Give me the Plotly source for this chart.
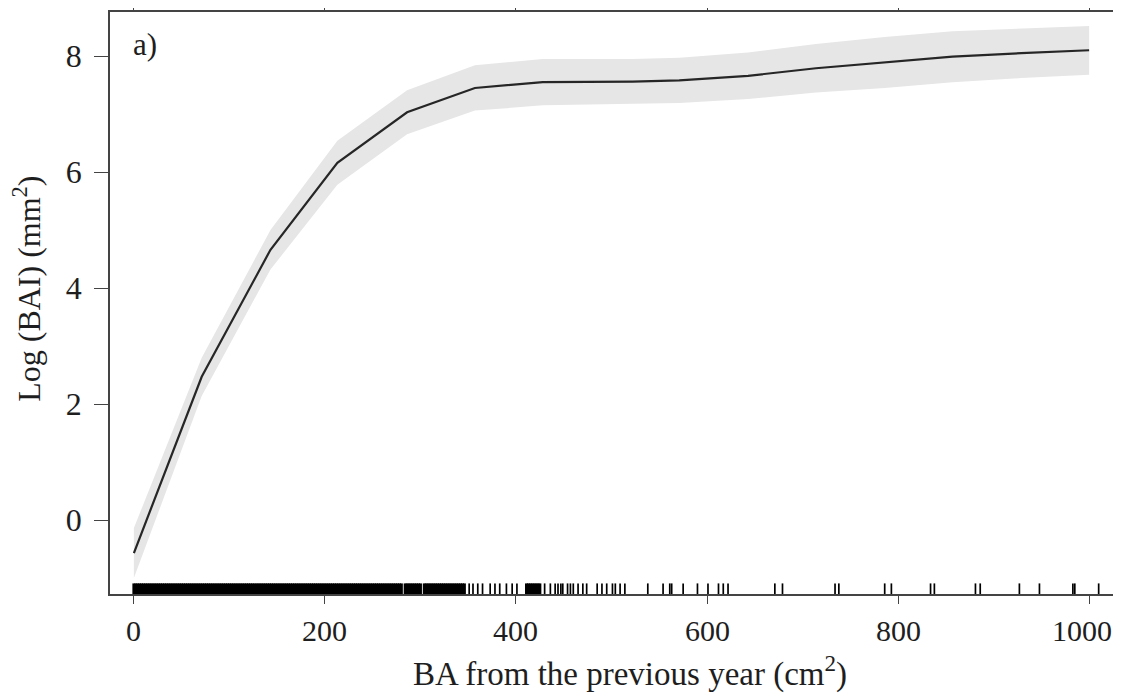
import plotly.graph_objects as go

# Fitted smooth (piecewise) and its confidence half-width
ba_x = [0, 71, 143, 213, 286, 357, 428, 500, 522, 571, 643, 714, 786, 857, 929, 1000]
fit_y = [-0.57, 2.47, 4.66, 6.16, 7.03, 7.45, 7.55, 7.56, 7.56, 7.58, 7.66, 7.79, 7.89, 7.99, 8.05, 8.10]
half_w = [0.43, 0.33, 0.34, 0.38, 0.38, 0.39, 0.40, 0.39, 0.39, 0.39, 0.40, 0.42, 0.44, 0.44, 0.43, 0.42]

# Rug of observed BA values
rug_dense = [0, 2, 4, 6, 8, 10, 12, 14, 16, 18, 20, 22, 24, 26, 28, 30, 32, 34, 36, 38,
             40, 42, 44, 46, 48, 50, 52, 54, 56, 58, 60, 62, 64, 66, 68, 70, 72, 74, 76, 78,
             80, 82, 84, 86, 88, 90, 92, 94, 96, 98, 100, 102, 104, 106, 108, 110, 112, 114,
             116, 118, 120, 122, 124, 126, 128, 130, 132, 134, 136, 138, 140, 142, 144, 146,
             148, 150, 152, 154, 156, 158, 160, 162, 164, 166, 168, 170, 172, 174, 176, 178,
             180, 182, 184, 186, 188, 190, 192, 194, 196, 198, 200, 202, 204, 206, 208, 210,
             212, 214, 216, 218, 220, 222, 224, 226, 228, 230, 232, 234, 236, 238, 240, 242,
             244, 246, 248, 250, 252, 254, 256, 258, 260, 262, 264, 266, 268, 270, 272, 274,
             276, 278, 280,
             284, 286, 288, 290, 292, 294, 296, 298, 300,
             304, 306, 308, 310, 312, 314, 316, 318, 320, 322, 324, 326, 328, 330, 332, 334,
             336, 338, 340, 342, 344, 346,
             411, 413, 415, 417, 419, 421, 423, 425]
rug_sparse = [351, 355, 360, 365, 373, 378, 383, 390, 396, 401,
              430, 436, 441, 444, 447, 449, 454, 457, 460, 465, 470, 474,
              485, 490, 495, 501, 504, 509, 514, 538, 554, 561, 563, 575, 590, 601,
              612, 617, 622, 671, 679, 734, 738, 786, 793, 834, 838, 881, 886,
              927, 948, 983, 985, 1010]

x_ticks = [0, 200, 400, 600, 800, 1000]
y_ticks = [0, 2, 4, 6, 8]

upper = [f + w for f, w in zip(fit_y, half_w)]
lower = [f - w for f, w in zip(fit_y, half_w)]

RUG_Y = -1.19
FONT = "Liberation Serif"
TXT = "#1e1e1e"

fig = go.Figure()
fig.add_trace(go.Scatter(x=ba_x, y=upper, mode="lines", line=dict(width=0, color="#e6e6e6"),
                         showlegend=False, hoverinfo="skip"))
fig.add_trace(go.Scatter(x=ba_x, y=lower, mode="lines", line=dict(width=0, color="#e6e6e6"),
                         fill="tonexty", fillcolor="#e6e6e6", showlegend=False, hoverinfo="skip"))
fig.add_trace(go.Scatter(x=ba_x, y=fit_y, mode="lines", line=dict(width=2.2, color="#262626"),
                         showlegend=False))
fig.add_trace(go.Scatter(x=rug_dense, y=[RUG_Y] * len(rug_dense), mode="markers",
                         marker=dict(symbol="line-ns", size=8, line=dict(width=3, color="black")),
                         showlegend=False, hoverinfo="x"))
fig.add_trace(go.Scatter(x=rug_sparse, y=[RUG_Y] * len(rug_sparse), mode="markers",
                         marker=dict(symbol="line-ns", size=8, line=dict(width=1.7, color="black")),
                         showlegend=False, hoverinfo="x"))

fig.add_annotation(text="a)", xref="paper", yref="paper", x=0.021, y=0.978,
                   xanchor="left", yanchor="top", showarrow=False,
                   font=dict(family=FONT, size=31, color=TXT))
# x tick labels as annotations so the last one stays inside the page
for i, t in enumerate(x_ticks):
    fig.add_annotation(text=str(t), xref="x", yref="paper", x=t, y=-0.062,
                       xanchor="center", yanchor="middle", showarrow=False,
                       xshift=-7 if i == len(x_ticks) - 1 else 0,
                       font=dict(family=FONT, size=30, color=TXT))
# Axis titles (placed as annotations to match the reference's off-centre placement)
fig.add_annotation(text="BA from the previous year (cm<sup>2</sup>)", xref="paper", yref="paper",
                   x=0.518, y=-0.134, xanchor="center", yanchor="middle", showarrow=False,
                   font=dict(family=FONT, size=33, color=TXT))
fig.add_annotation(text="Log (BAI) (mm<sup>2</sup>)", xref="paper", yref="paper",
                   x=-0.083, y=0.524, xanchor="center", yanchor="middle", showarrow=False,
                   textangle=-90, font=dict(family=FONT, size=32, color=TXT))

# The page adds an 8 px body margin, so the figure is sized/margined to compensate.
fig.update_layout(
    width=1113, height=687,
    margin=dict(l=102, r=8, t=4, b=101),
    paper_bgcolor="white", plot_bgcolor="white",
    font=dict(family=FONT, color=TXT),
    xaxis=dict(range=[-25, 1025], tickvals=x_ticks, automargin=False, showticklabels=False,
               showgrid=False, zeroline=False, showline=True, linecolor="#444", linewidth=1.5,
               mirror="ticks", ticks="outside", ticklen=8, tickwidth=1.3, tickcolor="#444"),
    yaxis=dict(range=[-1.276, 8.76], tickvals=y_ticks, automargin=False,
               showgrid=False, zeroline=False, showline=True, linecolor="#444", linewidth=1.5,
               mirror="ticks", ticks="outside", ticklen=14, tickwidth=1.3, tickcolor="#444",
               tickfont=dict(family=FONT, size=32, color=TXT), ticklabelstandoff=6),
)

fig.write_html("out.html")
